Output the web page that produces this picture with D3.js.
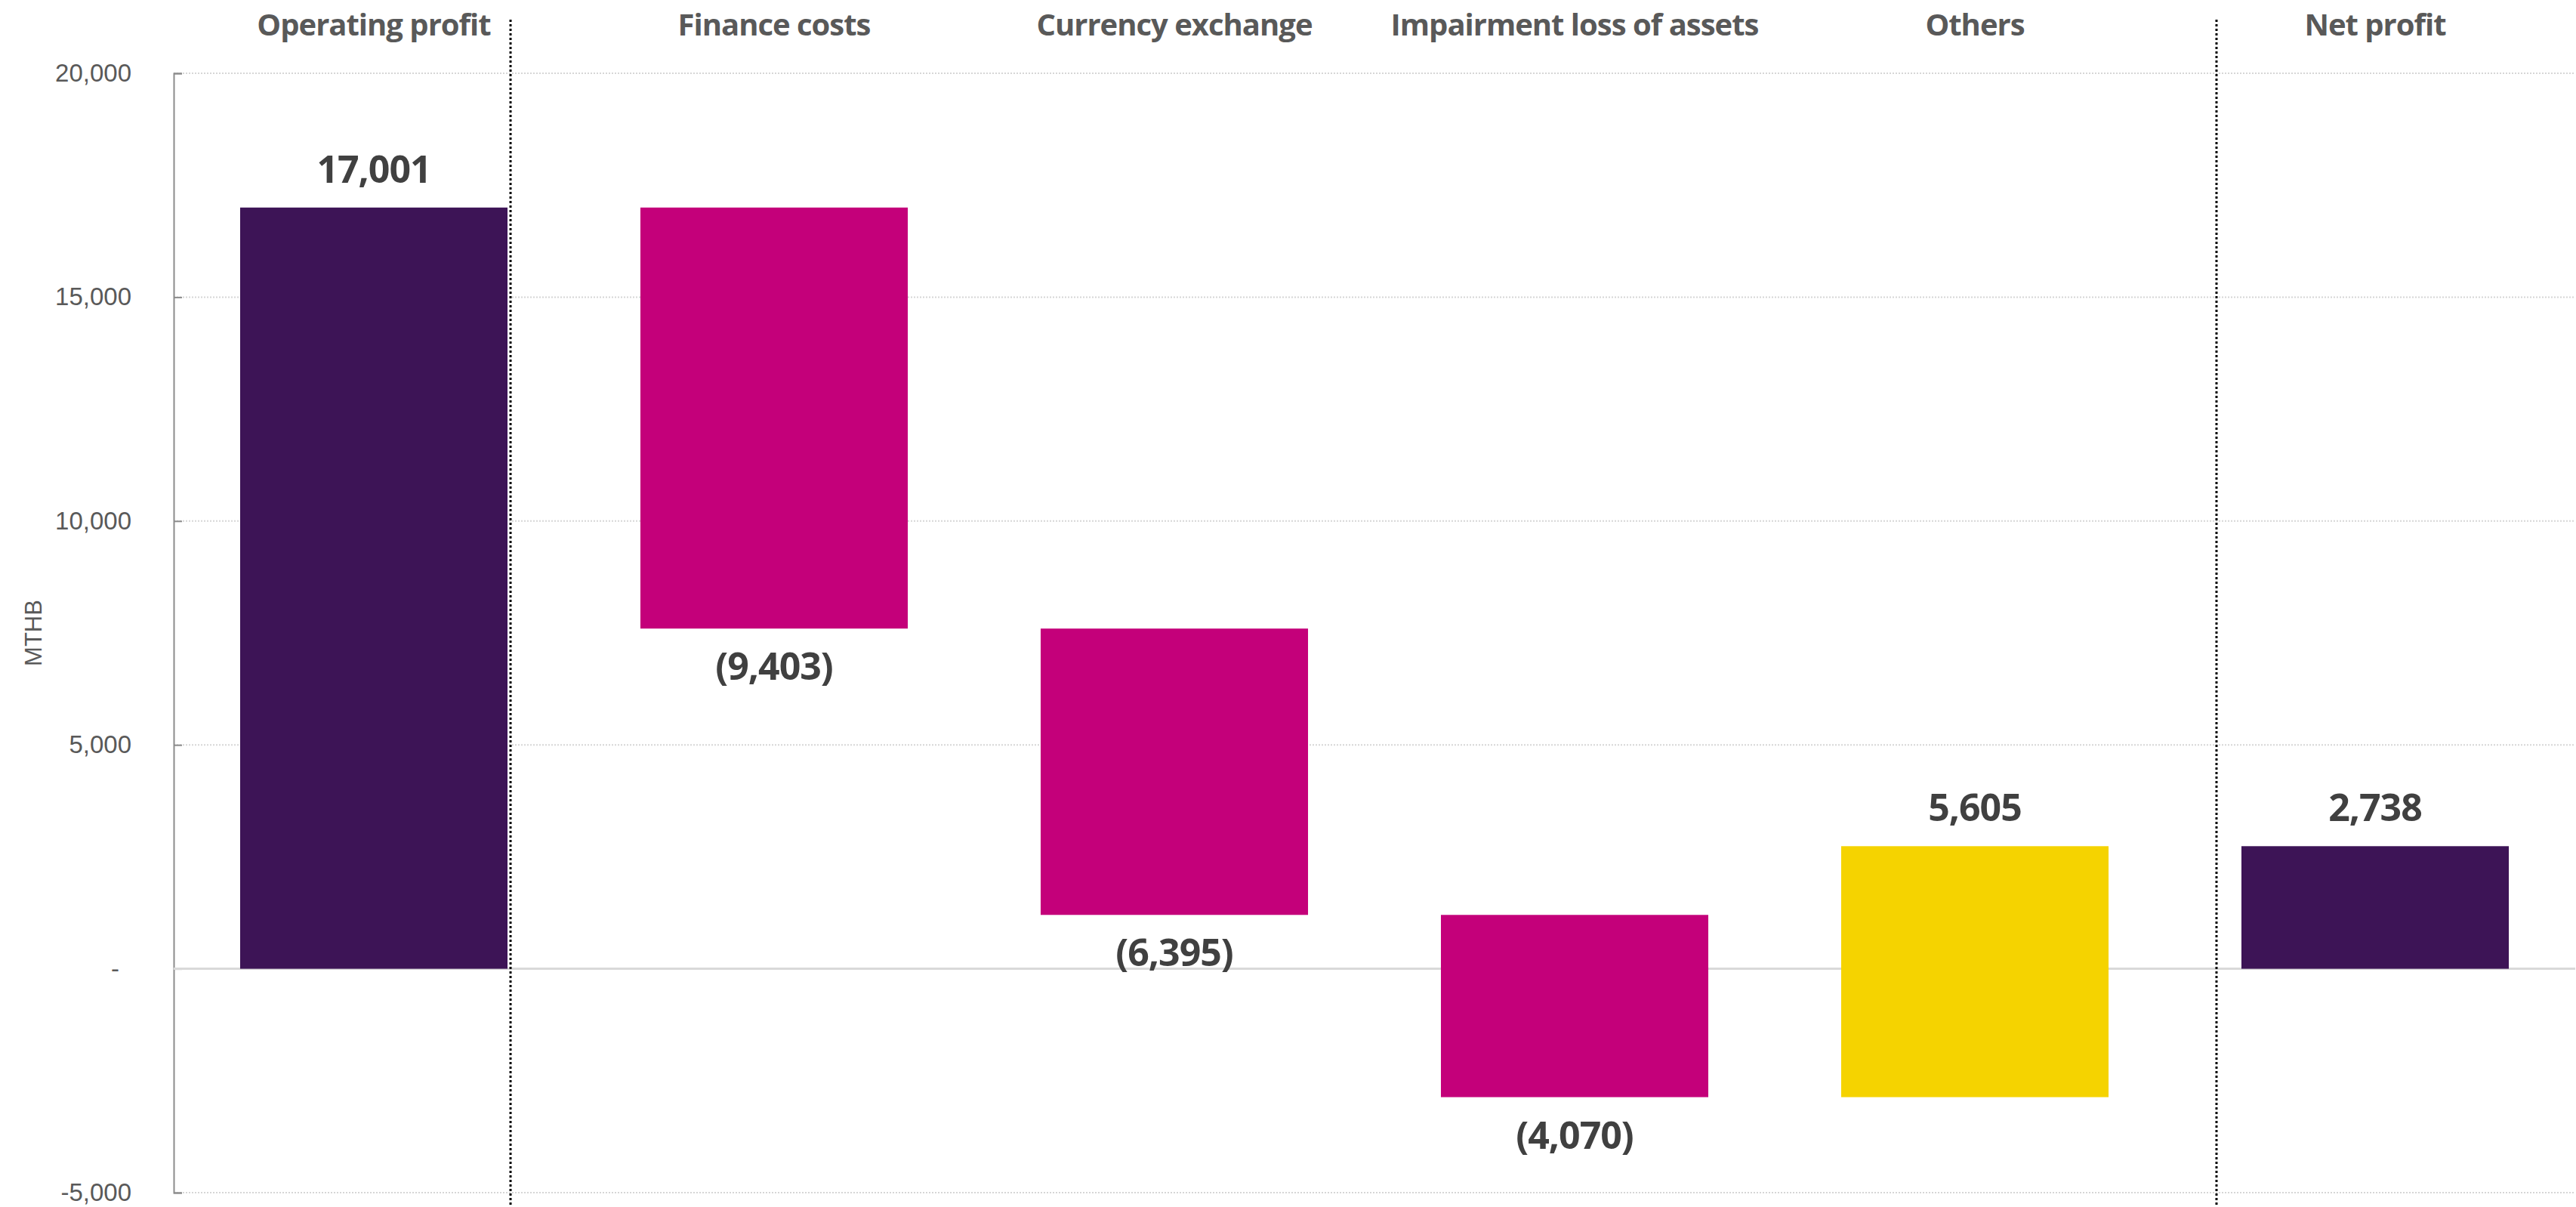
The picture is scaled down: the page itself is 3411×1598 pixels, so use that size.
<!DOCTYPE html>
<html>
<head>
<meta charset="utf-8">
<script src="https://cdn.jsdelivr.net/npm/d3@7.9.0/dist/d3.min.js"></script>
<style>
  html, body { margin: 0; padding: 0; background: #fff; }
  svg { display: block; }
</style>
</head>
<body>
<svg id="chart" width="3411" height="1598"></svg>
<script>
const categories = ['Operating profit', 'Finance costs', 'Currency exchange', 'Impairment loss of assets', 'Others', 'Net profit'];
const values = [17001, -9403, -6395, -4070, 5605, 2738];
const kinds = ['total', 'delta', 'delta', 'delta', 'delta', 'total'];
const yTicks = [-5000, 0, 5000, 10000, 15000, 20000];
const yLabel = 'MTHB';

const W = 3411, H = 1598;
const plotLeft = 230, plotRight = 3410, plotTop = 97, plotBottom = 1579;

const svg = d3.select('#chart');

const x = d3.scaleBand()
  .domain(categories)
  .range([plotLeft, plotRight])
  .paddingInner(0.332)
  .paddingOuter(0.166);

const y = d3.scaleLinear()
  .domain([-5000, 20000])
  .range([plotBottom, plotTop]);

// waterfall steps
let running = 0;
const steps = categories.map((c, i) => {
  let start, end;
  if (kinds[i] === 'total') {
    start = 0;
    end = values[i];
    running = values[i];
  } else {
    start = running;
    end = running + values[i];
    running = end;
  }
  return { cat: c, value: values[i], kind: kinds[i], start, end };
});

function barColor(d) {
  if (d.kind === 'total') return '#3D1456';
  return d.value < 0 ? '#C4007A' : '#F5D300';
}

// gridlines
svg.append('g')
  .selectAll('line')
  .data(yTicks.filter(t => t !== 0))
  .join('line')
  .attr('x1', plotLeft)
  .attr('x2', plotRight)
  .attr('y1', d => y(d))
  .attr('y2', d => y(d))
  .attr('stroke', '#d6d6d6')
  .attr('stroke-width', 2)
  .attr('stroke-dasharray', '2,2');

// y axis
const fmt = d3.format(',');
const yAxis = d3.axisLeft(y)
  .tickValues(yTicks)
  .tickSize(-11)
  .tickPadding(56)
  .tickFormat(d => d === 0 ? '-' : fmt(d).replace('\u2212', '-'));

const ag = svg.append('g')
  .attr('transform', `translate(${plotLeft},0)`)
  .call(yAxis);
ag.select('.domain').attr('stroke', '#8c8c8c').attr('stroke-width', 2);
ag.selectAll('.tick line').attr('stroke', '#8c8c8c').attr('stroke-width', 2);
ag.selectAll('.tick text')
  .attr('fill', '#595959')
  .style('font-family', '"Liberation Sans", Arial, sans-serif')
  .style('font-size', '33px')
  .attr('dx', d => d === 0 ? -16 : 0);

// zero line
svg.append('line')
  .attr('x1', plotLeft)
  .attr('x2', plotRight)
  .attr('y1', y(0))
  .attr('y2', y(0))
  .attr('stroke', '#d9d9d9')
  .attr('stroke-width', 3);

// y label
svg.append('text')
  .attr('transform', `translate(55,${(plotTop + plotBottom) / 2}) rotate(-90)`)
  .attr('text-anchor', 'middle')
  .attr('fill', '#595959')
  .style('font-family', '"Liberation Sans", Arial, sans-serif')
  .style('font-size', '31px')
  .text(yLabel);

// bars
svg.append('g')
  .selectAll('rect')
  .data(steps)
  .join('rect')
  .attr('x', d => x(d.cat))
  .attr('width', x.bandwidth())
  .attr('y', d => y(Math.max(d.start, d.end)))
  .attr('height', d => Math.abs(y(d.start) - y(d.end)))
  .attr('fill', barColor);

// separators
const sepX = [x(categories[0]) + x.bandwidth() + 4, x(categories[5]) - 33];
svg.append('g')
  .selectAll('line')
  .data(sepX)
  .join('line')
  .attr('x1', d => d)
  .attr('x2', d => d)
  .attr('y1', 26)
  .attr('y2', H)
  .attr('stroke', '#000')
  .attr('stroke-width', 3)
  .attr('stroke-dasharray', '3,3');

// category labels
svg.append('g')
  .selectAll('text')
  .data(categories)
  .join('text')
  .attr('x', d => x(d) + x.bandwidth() / 2)
  .attr('y', 47)
  .attr('text-anchor', 'middle')
  .attr('fill', '#595959')
  .style('font-family', '"Open Sans", Lato, sans-serif')
  .style('font-weight', 'bold')
  .style('font-size', '40px')
  .style('letter-spacing', '-1px')
  .text(d => d);

// value labels
svg.append('g')
  .selectAll('text')
  .data(steps)
  .join('text')
  .attr('x', d => x(d.cat) + x.bandwidth() / 2)
  .attr('y', d => d.value < 0 ? y(d.end) + 68 : y(Math.max(d.start, d.end)) - 33)
  .attr('text-anchor', 'middle')
  .attr('fill', '#404040')
  .style('font-family', '"Open Sans", Lato, sans-serif')
  .style('font-weight', 'bold')
  .style('font-size', '50px')
  .style('letter-spacing', '-1px')
  .text(d => d.value < 0 ? `(${fmt(-d.value)})` : fmt(d.value));
</script>
</body>
</html>
